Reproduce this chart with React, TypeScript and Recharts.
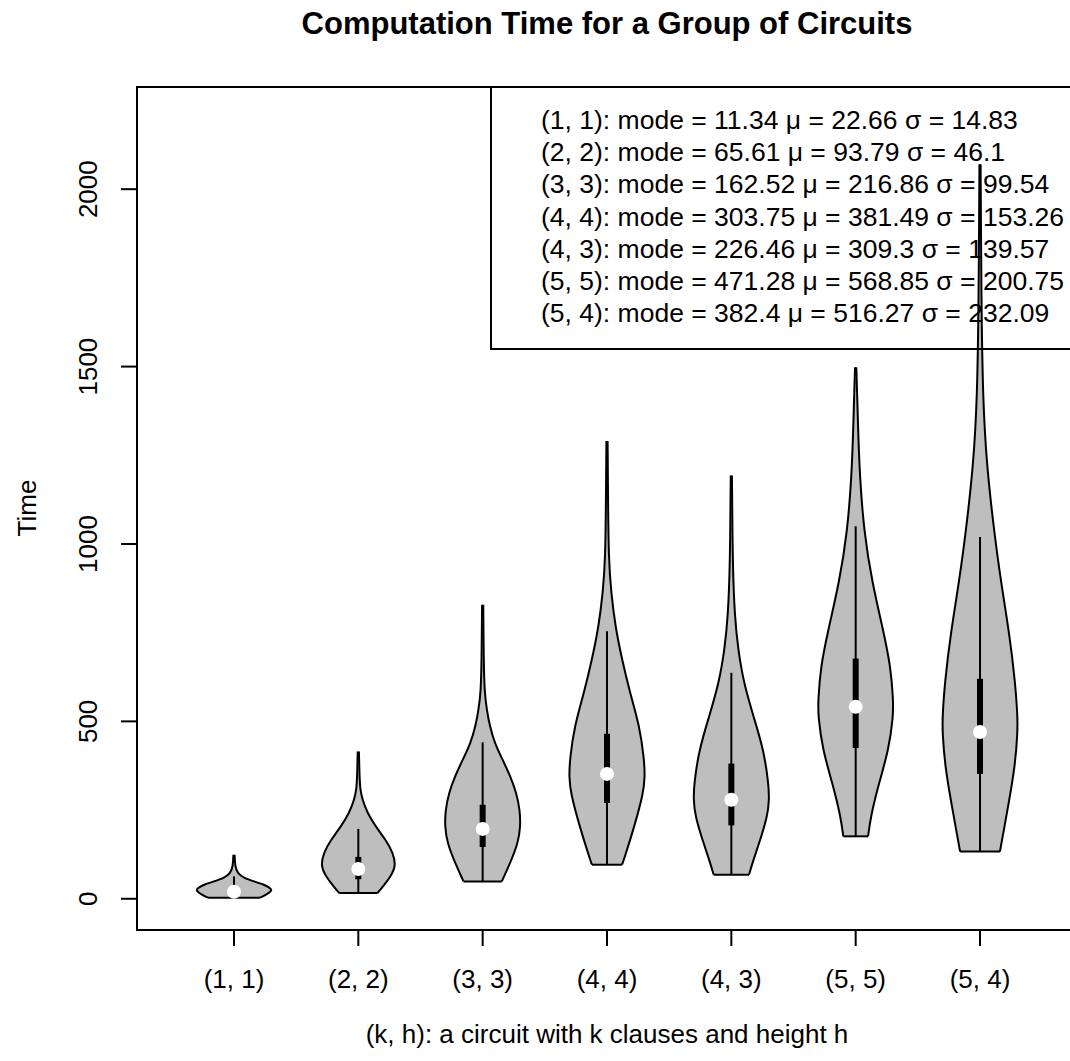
import React from 'react';
import { ComposedChart, Area, Line, XAxis, YAxis, ReferenceArea } from 'recharts';

// groups on the x axis, in plotting order
const categories = ['(1, 1)', '(2, 2)', '(3, 3)', '(4, 4)', '(4, 3)', '(5, 5)', '(5, 4)'];
const yTicks = [0, 500, 1000, 1500, 2000];

// summary stats shown in the legend
const modes = [11.34, 65.61, 162.52, 303.75, 226.46, 471.28, 382.4];
const means = [22.66, 93.79, 216.86, 381.49, 309.3, 568.85, 516.27];
const sds = [14.83, 46.1, 99.54, 153.26, 139.57, 200.75, 232.09];

// box-plot parts drawn inside each violin
const lowerAdj = [3, 16, 49, 96, 68, 176, 133];
const upperAdj = [63, 197, 441, 754, 637, 1050, 1020];
const q1 = [10, 55, 146, 270, 207, 425, 352];
const q3 = [32, 118, 265, 465, 381, 677, 620];
const medians = [20, 84, 197, 352, 279, 541, 470];

// density outlines: [time, relative half width], bottom to top
const dens11 = [[3, 0.69], [14, 0.9], [25, 1.03], [32, 0.93], [40, 0.8], [49, 0.53], [58, 0.27], [72, 0.09], [91, 0.03], [124, 0.016]];
const dens22 = [[16, 0.51], [35, 0.66], [63, 0.86], [91, 1.0], [129, 0.93], [166, 0.73], [204, 0.46], [242, 0.24], [279, 0.11], [307, 0.05], [350, 0.03], [415, 0.016]];
const dens33 = [[49, 0.51], [110, 0.77], [157, 0.94], [204, 1.01], [251, 0.99], [298, 0.9], [345, 0.74], [392, 0.53], [439, 0.32], [486, 0.19], [533, 0.11], [581, 0.05], [674, 0.027], [829, 0.016]];
const dens44 = [[96, 0.4], [110, 0.45], [204, 0.73], [298, 0.97], [345, 1.01], [392, 0.99], [486, 0.87], [581, 0.61], [674, 0.4], [768, 0.22], [863, 0.11], [956, 0.045], [1126, 0.027], [1290, 0.016]];
const dens43 = [[68, 0.47], [110, 0.59], [166, 0.77], [232, 0.96], [279, 1.01], [326, 0.99], [420, 0.86], [514, 0.59], [608, 0.33], [702, 0.18], [796, 0.09], [937, 0.035], [1193, 0.016]];
const dens55 = [[176, 0.33], [232, 0.4], [326, 0.62], [420, 0.88], [514, 1.0], [561, 1.0], [655, 0.93], [749, 0.75], [891, 0.44], [1032, 0.22], [1219, 0.09], [1408, 0.045], [1498, 0.016]];
const dens54 = [[133, 0.53], [185, 0.62], [279, 0.78], [373, 0.93], [467, 1.0], [514, 1.0], [608, 0.94], [749, 0.78], [891, 0.56], [1032, 0.38], [1219, 0.18], [1408, 0.075], [1690, 0.035], [2070, 0.016]];

const densities = [dens11, dens22, dens33, dens44, dens43, dens55, dens54];

const MAX_HALF = 0.302; // widest half-width in x units
const FONT = '"Liberation Sans", Arial, Helvetica, sans-serif';

const violinRows = (i: number) =>
  densities[i].map(([y, w]) => ({ y, band: [i + 1 - w * MAX_HALF, i + 1 + w * MAX_HALF] }));

const bottomRows = (i: number) => {
  const [y, w] = densities[i][0];
  return [{ y, x: i + 1 - w * MAX_HALF }, { y, x: i + 1 + w * MAX_HALF }];
};

const medianRows = medians.map((y, i) => ({ y, x: i + 1 }));

const legendLines = categories.map(
  (c, i) => `${c}: mode = ${modes[i]} \u03bc = ${means[i]} \u03c3 = ${sds[i]}`
);

const XTick = ({ x, y, payload }: any) => (
  <text x={x} y={y + 42} textAnchor="middle" fontSize={26} fill="#000" fontFamily={FONT}>
    {categories[payload.value - 1]}
  </text>
);

const YTick = ({ x, y, payload }: any) => {
  const bx = x - 24.3;
  return (
    <text x={bx} y={y} transform={`rotate(-90 ${bx} ${y})`} textAnchor="middle" fontSize={26} fill="#000" fontFamily={FONT}>
      {payload.value}
    </text>
  );
};

export default function App() {
  return (
    <div style={{ position: 'absolute', left: 0, top: 0, width: 1070, height: 1061, overflow: 'hidden', background: '#fff', fontFamily: FONT }}>
      <ComposedChart width={1090} height={1061} layout="vertical" margin={{ top: 87, right: 13, bottom: 0, left: 0 }}>
        <XAxis
          type="number"
          domain={[0.22, 7.78]}
          ticks={[1, 2, 3, 4, 5, 6, 7]}
          interval={0}
          allowDataOverflow
          height={131}
          axisLine={false}
          tickLine={{ stroke: '#000', strokeWidth: 2 }}
          tickSize={16}
          tickMargin={0}
          tick={<XTick />}
        />
        <YAxis
          type="number"
          dataKey="y"
          domain={[-88, 2288]}
          ticks={yTicks}
          interval={0}
          reversed
          allowDataOverflow
          width={137}
          axisLine={false}
          tickLine={{ stroke: '#000', strokeWidth: 2 }}
          tickSize={16}
          tickMargin={0}
          tick={<YTick />}
        />
        <ReferenceArea x1={0.22} x2={7.78} y1={-88} y2={2288} fill="none" stroke="#000" strokeWidth={2} />
        {categories.map((c, i) => (
          <Area
            key={`v-${c}`}
            data={violinRows(i)}
            dataKey="band"
            type="basis"
            fill="#BEBEBE"
            fillOpacity={1}
            stroke="#000"
            strokeWidth={2}
            dot={false}
            activeDot={false}
            isAnimationActive={false}
          />
        ))}
        {categories.map((c, i) => (
          <Line
            key={`b-${c}`}
            data={bottomRows(i)}
            dataKey="x"
            stroke="#000"
            strokeWidth={2}
            dot={false}
            activeDot={false}
            isAnimationActive={false}
          />
        ))}
        {categories.map((c, i) => (
          <Line
            key={`w-${c}`}
            data={[{ y: lowerAdj[i], x: i + 1 }, { y: upperAdj[i], x: i + 1 }]}
            dataKey="x"
            stroke="#000"
            strokeWidth={2}
            dot={false}
            activeDot={false}
            isAnimationActive={false}
          />
        ))}
        {categories.map((c, i) => (
          <Line
            key={`q-${c}`}
            data={[{ y: q1[i], x: i + 1 }, { y: q3[i], x: i + 1 }]}
            dataKey="x"
            stroke="#000"
            strokeWidth={6}
            strokeLinecap="butt"
            dot={false}
            activeDot={false}
            isAnimationActive={false}
          />
        ))}
        <Line
          data={medianRows}
          dataKey="x"
          stroke="none"
          dot={{ r: 7, fill: '#fff', stroke: '#fff', strokeWidth: 0 }}
          activeDot={false}
          isAnimationActive={false}
        />
      </ComposedChart>
      <svg width={1070} height={1061} style={{ position: 'absolute', left: 0, top: 0, pointerEvents: 'none' }}>
        <text x={607} y={34} textAnchor="middle" fontSize={31} fontWeight="bold" fontFamily={FONT}>
          Computation Time for a Group of Circuits
        </text>
        <text x={607} y={1043} textAnchor="middle" fontSize={26} fontFamily={FONT}>
          (k, h): a circuit with k clauses and height h
        </text>
        <text x={36} y={508} transform="rotate(-90 36 508)" textAnchor="middle" fontSize={26} fontFamily={FONT}>
          Time
        </text>
        <rect x={491} y={87} width={620} height={262} fill="none" stroke="#000" strokeWidth={2} />
        {legendLines.map((t, i) => (
          <text key={t} x={541} y={129 + 32.2 * i} fontSize={26.5} fontFamily={FONT}>
            {t}
          </text>
        ))}
      </svg>
    </div>
  );
}
